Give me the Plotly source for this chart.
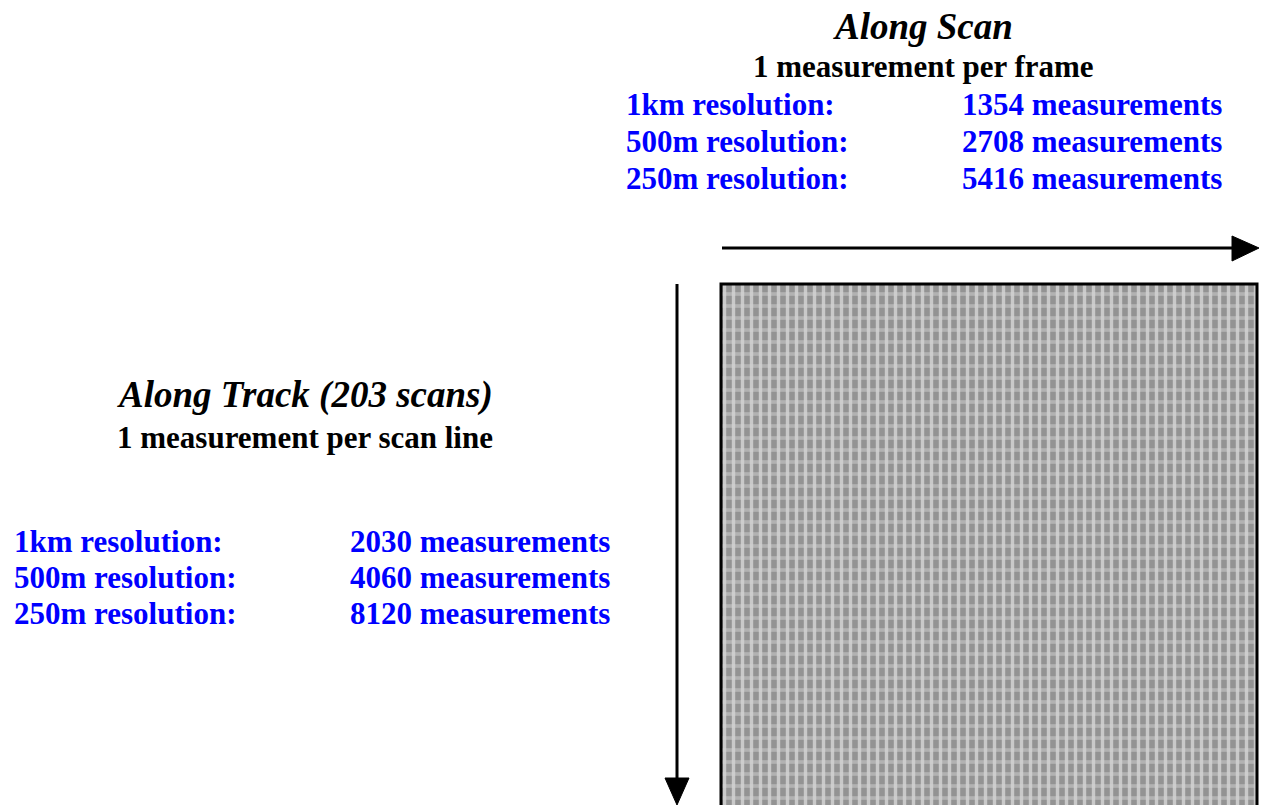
import plotly.graph_objects as go

W, H = 1265, 805

scan_title = "Along Scan"
scan_sub = "1 measurement per frame"
track_title = "Along Track (203 scans)"
track_sub = "1 measurement per scan line"
res_labels = ["1km resolution:", "500m resolution:", "250m resolution:"]
scan_counts = [1354, 2708, 5416]
track_counts = [2030, 4060, 8120]

FONT = "Liberation Serif, Times New Roman, serif"
BLUE = "#0000ff"

fig = go.Figure()

# patterned swath rectangle (two overlaid textures)
rx0, rx1, ry0, ry1 = 721, 1257, 284, 806
bx = [rx0, rx1, rx1, rx0, rx0]
by = [ry0, ry0, ry1, ry1, ry0]
fig.add_trace(go.Scatter(
    x=bx, y=by, mode="lines", fill="toself", line=dict(width=0),
    fillcolor="#939393",
    fillpattern=dict(shape="|", fgcolor="#ffffff", bgcolor="#939393",
                     size=9, solidity=0.38),
    hoverinfo="skip", showlegend=False))
fig.add_trace(go.Scatter(
    x=bx, y=by, mode="lines", fill="toself", line=dict(width=0),
    fillcolor="rgba(0,0,0,0)",
    fillpattern=dict(shape="-", fgcolor="#d2d2d2", bgcolor="rgba(0,0,0,0)",
                     size=12, solidity=0.3),
    hoverinfo="skip", showlegend=False))

shapes = [
    dict(type="rect", x0=rx0, x1=rx1, y0=ry0, y1=ry1 + 5,
         line=dict(color="black", width=3), fillcolor="rgba(0,0,0,0)"),
    # along-scan arrow
    dict(type="line", x0=722, x1=1234, y0=248, y1=248,
         line=dict(color="black", width=3)),
    dict(type="path", path="M 1232 236 L 1259 248 L 1232 261 Z",
         fillcolor="black", line=dict(color="black", width=1)),
    # along-track arrow
    dict(type="line", x0=677, x1=677, y0=284, y1=780,
         line=dict(color="black", width=3)),
    dict(type="path", path="M 665 778 L 677 805 L 689 778 Z",
         fillcolor="black", line=dict(color="black", width=1)),
]

ann = []
def txt(x, y, s, size, color="black", italic=False, xanchor="center"):
    t = f"<b><i>{s}</i></b>" if italic else f"<b>{s}</b>"
    ann.append(dict(x=x, y=y, text=t, showarrow=False, xanchor=xanchor,
                    yanchor="middle", xref="x", yref="y",
                    font=dict(family=FONT, size=size, color=color)))

txt(923, 26, scan_title, 37, italic=True)
txt(923, 66, scan_sub, 31)
for i, (lab, c) in enumerate(zip(res_labels, scan_counts)):
    y = 104 + 37 * i
    txt(624, y, lab, 31, BLUE, xanchor="left")
    txt(960, y, f"{c} measurements", 31, BLUE, xanchor="left")

txt(305, 395, track_title, 37, italic=True)
txt(305, 437, track_sub, 31)
for i, (lab, c) in enumerate(zip(res_labels, track_counts)):
    y = 541 + 36 * i
    txt(12, y, lab, 31, BLUE, xanchor="left")
    txt(348, y, f"{c} measurements", 31, BLUE, xanchor="left")

fig.update_layout(
    width=W, height=H, margin=dict(l=0, r=0, t=0, b=0),
    paper_bgcolor="white", plot_bgcolor="white",
    xaxis=dict(range=[0, W], visible=False, fixedrange=True),
    yaxis=dict(range=[H, 0], visible=False, fixedrange=True),
    shapes=shapes, annotations=ann, showlegend=False)

fig.write_html("out.html", config={"displayModeBar": False},
               post_script="document.body.style.margin='0px';"
                           "document.body.style.overflow='hidden';")
